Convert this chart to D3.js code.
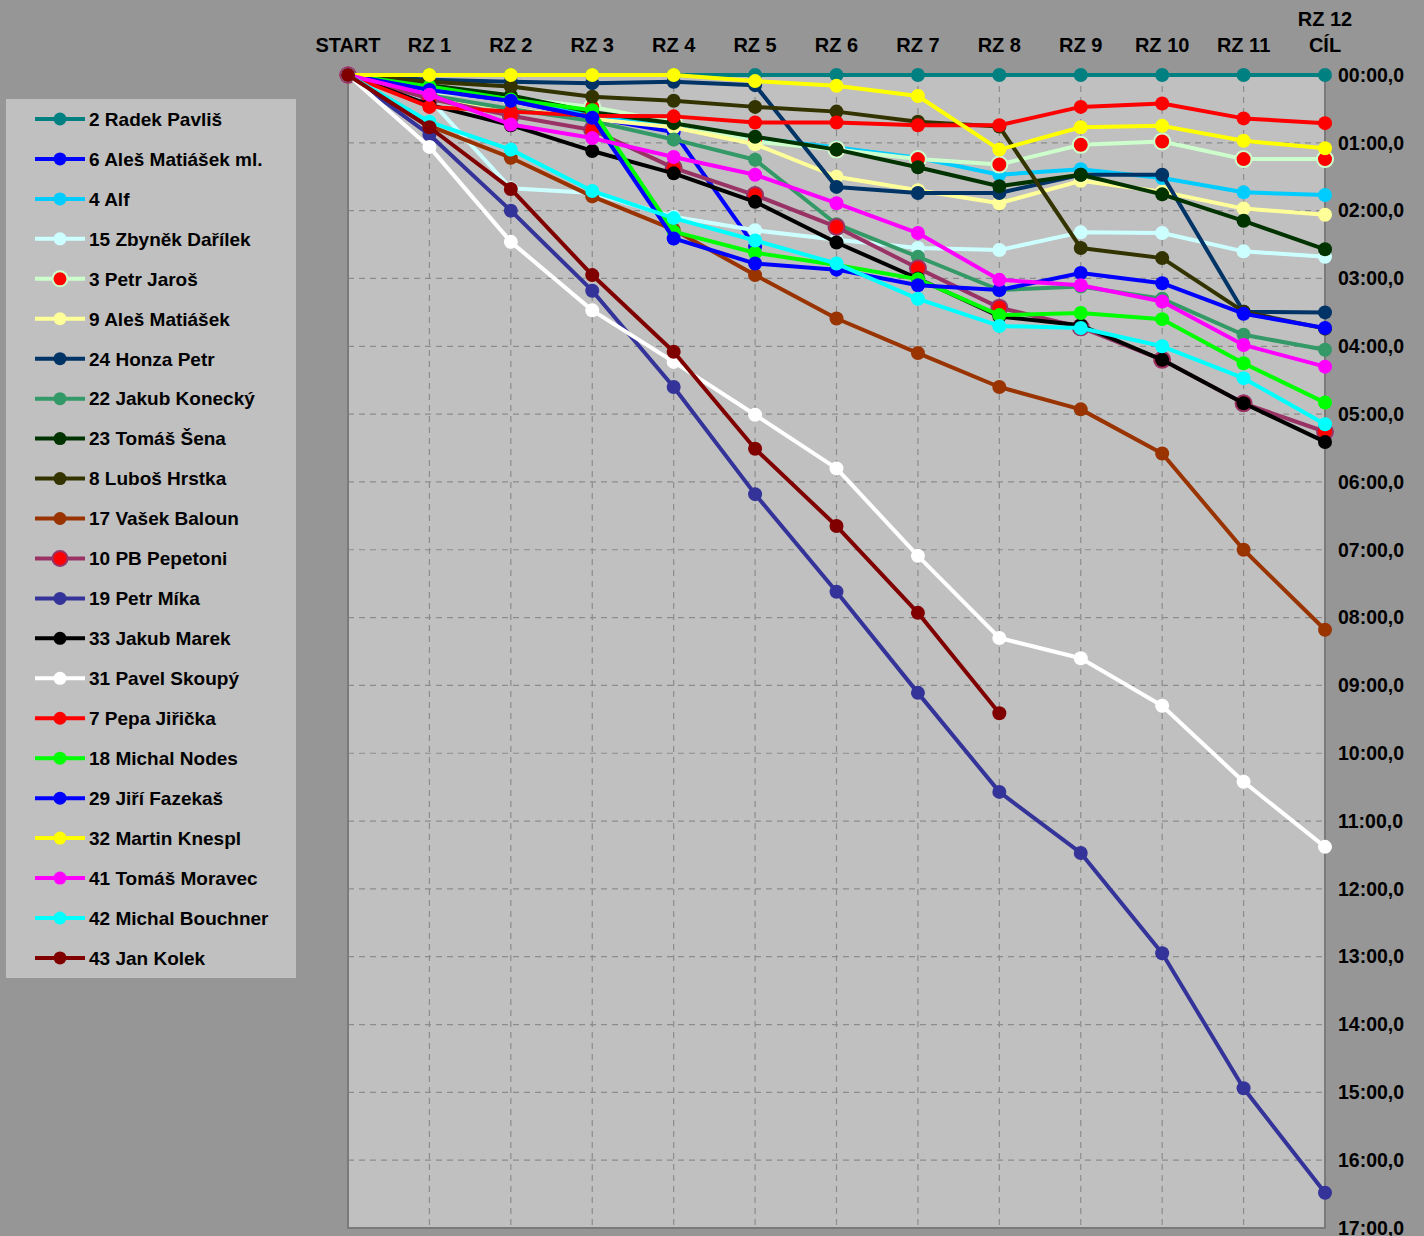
<!DOCTYPE html>
<html>
<head>
<meta charset="utf-8">
<script src="https://cdn.jsdelivr.net/npm/d3@7"></script>
<style>
  body { margin: 0; background: #969696; }
  svg { display: block; font-family: "Liberation Sans", Arial, sans-serif; font-weight: bold; }
</style>
</head>
<body>
<svg id="chart" width="1424" height="1236"></svg>
<script>
// stages (x categories), last one has two lines
var stages = ["START", "RZ 1", "RZ 2", "RZ 3", "RZ 4", "RZ 5", "RZ 6", "RZ 7", "RZ 8", "RZ 9", "RZ 10", "RZ 11", "RZ 12|CÍL"];

// y ticks in minutes behind the leader
var minuteTicks = d3.range(0, 18);

// drivers in legend order
var drivers = ["2 Radek Pavliš", "6 Aleš Matiášek ml.", "4 Alf", "15 Zbyněk Dařílek", "3 Petr Jaroš",
  "9 Aleš Matiášek", "24 Honza Petr", "22 Jakub Konecký", "23 Tomáš Šena", "8 Luboš Hrstka",
  "17 Vašek Baloun", "10 PB Pepetoni", "19 Petr Míka", "33 Jakub Marek", "31 Pavel Skoupý",
  "7 Pepa Jiřička", "18 Michal Nodes", "29 Jiří Fazekaš", "32 Martin Knespl", "41 Tomáš Moravec",
  "42 Michal Bouchner", "43 Jan Kolek"];

var lineColors = ["#008080", "#0000ff", "#00ccff", "#ccffff", "#ccffcc",
  "#ffff99", "#003366", "#339966", "#003300", "#333300",
  "#993300", "#993366", "#333399", "#000000", "#ffffff",
  "#ff0000", "#00ff00", "#0000ff", "#ffff00", "#ff00ff",
  "#00ffff", "#800000"];

var markerColors = ["#008080", "#0000ff", "#00ccff", "#ccffff", "#ff0000",
  "#ffff99", "#003366", "#339966", "#003300", "#333300",
  "#993300", "#ff0000", "#333399", "#000000", "#ffffff",
  "#ff0000", "#00ff00", "#0000ff", "#ffff00", "#ff00ff",
  "#00ffff", "#800000"];

// gap to the leader after each stage, minutes (null = did not continue)
var pavlis   = [0, 0, 0, 0, 0, 0, 0, 0, 0, 0, 0, 0, 0];
var matiasekMl = [0, 0.22, 0.38, 0.63, 0.84, 2.53, null, null, null, null, null, null, null];
var alf      = [0, 0.2, 0.37, 0.6, 0.75, 0.93, 1.07, 1.22, 1.47, 1.39, 1.52, 1.73, 1.77];
var darilek  = [0, 0.36, 1.67, 1.74, 2.09, 2.29, 2.43, 2.55, 2.58, 2.32, 2.33, 2.6, 2.68];
var jaros    = [0, 0.25, 0.34, 0.47, 0.7, 0.98, 1.1, 1.24, 1.32, 1.03, 0.98, 1.24, 1.24];
var matiasek = [0, 0.33, 0.5, 0.65, 0.77, 1.02, 1.5, 1.7, 1.89, 1.56, 1.72, 1.97, 2.06];
var honza    = [0, 0.07, 0.1, 0.12, 0.1, 0.15, 1.65, 1.74, 1.74, 1.47, 1.47, 3.49, 3.5];
var konecky  = [0, 0.3, 0.5, 0.68, 0.95, 1.25, 2.2, 2.68, 3.17, 3.12, 3.3, 3.83, 4.05];
var sena     = [0, 0.15, 0.3, 0.55, 0.71, 0.91, 1.1, 1.36, 1.64, 1.47, 1.76, 2.15, 2.57];
var hrstka   = [0, 0.1, 0.17, 0.32, 0.38, 0.47, 0.54, 0.69, 0.76, 2.55, 2.7, 3.49, 3.74];
var baloun   = [0, 0.75, 1.22, 1.79, 2.28, 2.95, 3.59, 4.1, 4.6, 4.93, 5.58, 7.0, 8.18];
var pepetoni = [0, 0.35, 0.6, 0.81, 1.37, 1.77, 2.24, 2.85, 3.43, 3.72, 4.2, 4.84, 5.26];
var mika     = [0, 0.88, 2.0, 3.18, 4.6, 6.18, 7.62, 9.11, 10.57, 11.47, 12.95, 14.94, 16.48];
var marek    = [0, 0.44, 0.74, 1.12, 1.45, 1.87, 2.47, 3.0, 3.56, 3.69, 4.2, 4.84, 5.41];
var skoupy   = [0, 1.06, 2.46, 3.47, 4.23, 5.01, 5.8, 7.09, 8.3, 8.6, 9.3, 10.42, 11.38];
var jiricka  = [0, 0.47, 0.54, 0.6, 0.61, 0.7, 0.7, 0.74, 0.74, 0.47, 0.42, 0.64, 0.71];
var nodes    = [0, 0.17, 0.36, 0.52, 2.31, 2.62, 2.8, 3.01, 3.54, 3.51, 3.6, 4.25, 4.83];
var fazekas  = [0, 0.22, 0.38, 0.63, 2.41, 2.78, 2.87, 3.1, 3.17, 2.92, 3.07, 3.52, 3.73];
var knespl   = [0, 0, 0, 0, 0, 0.09, 0.16, 0.31, 1.1, 0.77, 0.75, 0.97, 1.08];
var moravec  = [0, 0.29, 0.73, 0.93, 1.21, 1.47, 1.89, 2.33, 3.02, 3.1, 3.34, 3.98, 4.3];
var bouchner = [0, 0.69, 1.1, 1.71, 2.11, 2.44, 2.78, 3.3, 3.7, 3.73, 4.0, 4.47, 5.15];
var kolek    = [0, 0.77, 1.68, 2.95, 4.08, 5.51, 6.65, 7.93, 9.41, null, null, null, null];

var seriesValues = [pavlis, matiasekMl, alf, darilek, jaros, matiasek, honza, konecky, sena, hrstka,
  baloun, pepetoni, mika, marek, skoupy, jiricka, nodes, fazekas, knespl, moravec, bouchner, kolek];

(function () {
  var series = drivers.map(function (name, i) {
    return { name: name, line: lineColors[i], marker: markerColors[i], values: seriesValues[i] };
  });

  var svg = d3.select("#chart");

  var plotLeft = 348, plotRight = 1325, plotTop = 75, plotBottom = 1228;

  var x = d3.scalePoint().domain(stages).range([plotLeft, plotRight]);
  var y = d3.scaleLinear().domain([0, 17]).range([plotTop, plotBottom]);

  function fmtTime(m) {
    var mm = Math.floor(m), ss = Math.round((m - mm) * 60);
    return d3.format("02")(mm) + ":" + d3.format("02")(ss) + ",0";
  }

  // two-coloured markers (red dot with ring) are drawn a bit bigger
  function markerR(s) { return s.marker !== s.line ? 8 : 7; }
  function markerStroke(s) { return s.marker !== s.line ? 2 : 0; }

  // plot area
  svg.append("rect")
      .attr("x", plotLeft).attr("y", plotTop)
      .attr("width", plotRight - plotLeft).attr("height", plotBottom - plotTop)
      .attr("fill", "#c0c0c0");

  // grid
  var grid = svg.append("g");
  grid.selectAll(".hgrid")
      .data(minuteTicks.slice(1, -1))
    .enter().append("line")
      .attr("x1", plotLeft).attr("x2", plotRight)
      .attr("y1", d => y(d)).attr("y2", d => y(d))
      .attr("stroke", "#8c8c8c").attr("stroke-width", 1.2)
      .attr("stroke-dasharray", "6,5");
  grid.selectAll(".vgrid")
      .data(stages.slice(1, -1))
    .enter().append("line")
      .attr("x1", d => x(d)).attr("x2", d => x(d))
      .attr("y1", plotTop).attr("y2", plotBottom)
      .attr("stroke", "#8c8c8c").attr("stroke-width", 1.2)
      .attr("stroke-dasharray", "6,5");

  // border lines left / bottom / right
  svg.append("path")
      .attr("d", "M" + plotLeft + "," + plotTop + "V" + plotBottom + "H" + plotRight + "V" + plotTop)
      .attr("fill", "none")
      .attr("stroke", "#7a7a7a")
      .attr("stroke-width", 2);

  // y axis on the right
  var yAxis = svg.append("g")
      .attr("transform", "translate(" + plotRight + ",0)")
      .call(d3.axisRight(y).tickValues(minuteTicks).tickFormat(fmtTime).tickSize(0).tickPadding(13));
  yAxis.select(".domain").remove();
  yAxis.selectAll("text")
      .attr("font-size", "19.5px")
      .attr("font-weight", "bold")
      .attr("font-family", "Liberation Sans, Arial, sans-serif")
      .attr("fill", "#000");

  // stage labels on top
  var stageLabels = svg.append("g").selectAll("text")
      .data(stages)
    .enter().append("text")
      .attr("x", d => x(d))
      .attr("y", 52)
      .attr("text-anchor", "middle")
      .attr("font-size", "20px")
      .attr("fill", "#000");
  stageLabels.each(function (d) {
    var parts = d.split("|");
    var t = d3.select(this);
    parts.forEach(function (p, i) {
      t.append("tspan")
          .attr("x", x(d))
          .attr("dy", i === 0 ? (-(parts.length - 1) * 26) : 26)
          .text(p);
    });
  });

  // lines and markers
  var line = d3.line()
      .defined(d => d != null)
      .x((d, i) => x(stages[i]))
      .y(d => y(d));

  var groups = svg.append("g").selectAll(".series")
      .data(series)
    .enter().append("g")
      .classed("series", true);

  groups.append("path")
      .attr("fill", "none")
      .attr("stroke", d => d.line)
      .attr("stroke-width", 4)
      .attr("stroke-linejoin", "round")
      .attr("d", d => line(d.values));

  groups.selectAll("circle")
      .data(d => d.values.map((v, i) => ({ v: v, i: i, s: d })).filter(p => p.v != null))
    .enter().append("circle")
      .attr("cx", p => x(stages[p.i]))
      .attr("cy", p => y(p.v))
      .attr("r", p => markerR(p.s))
      .attr("fill", p => p.s.marker)
      .attr("stroke", p => p.s.line)
      .attr("stroke-width", p => markerStroke(p.s));

  // legend
  var legend = svg.append("g");
  legend.append("rect")
      .attr("x", 6).attr("y", 99)
      .attr("width", 290).attr("height", 879)
      .attr("fill", "#c0c0c0");

  var items = legend.selectAll(".item")
      .data(series)
    .enter().append("g")
      .attr("transform", (d, i) => "translate(0," + (119 + i * 39.95) + ")");
  items.append("line")
      .attr("x1", 35).attr("x2", 85)
      .attr("stroke", d => d.line)
      .attr("stroke-width", 4);
  items.append("circle")
      .attr("cx", 60)
      .attr("r", d => markerR(d) - 0.5)
      .attr("fill", d => d.marker)
      .attr("stroke", d => d.line)
      .attr("stroke-width", d => markerStroke(d));
  items.append("text")
      .attr("x", 89).attr("dy", "0.36em")
      .attr("font-size", "19px")
      .attr("fill", "#000")
      .text(d => d.name);
})();
</script>
</body>
</html>
